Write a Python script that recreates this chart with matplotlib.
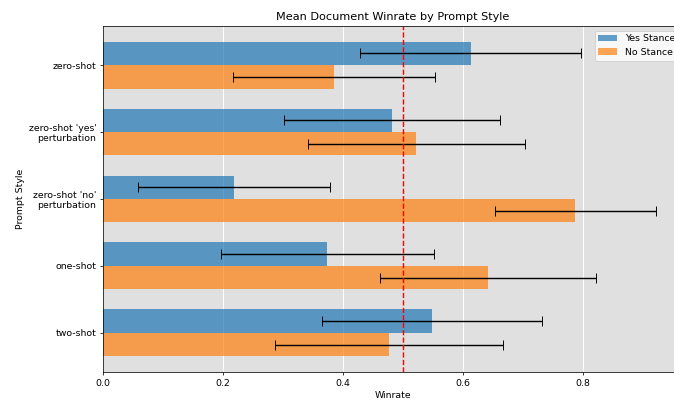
import matplotlib
matplotlib.use("Agg")
import matplotlib.pyplot as plt
import numpy as np

categories = ["zero-shot", "zero-shot 'yes'\nperturbation", "zero-shot 'no'\nperturbation", "one-shot", "two-shot"]
yes_vals = [0.613, 0.482, 0.219, 0.374, 0.548]
yes_err = [0.184, 0.180, 0.160, 0.177, 0.183]
no_vals = [0.385, 0.522, 0.787, 0.641, 0.477]
no_err = [0.168, 0.181, 0.134, 0.180, 0.190]

fig = plt.figure(figsize=(10, 5.98), dpi=67.4)
ax = fig.add_axes([0.1528, 0.077, 0.861, 0.8585])
ax.set_facecolor('#e0e0e0')
ax.set_axisbelow(True)
ax.grid(axis='x', color='white', linewidth=1)

y = np.arange(len(categories))
h = 0.35
ax.barh(y - h/2, yes_vals, height=h, xerr=yes_err, capsize=5, color='tab:blue', alpha=0.7,
        label='Yes Stance', error_kw=dict(ecolor='black', lw=1.5))
ax.barh(y + h/2, no_vals, height=h, xerr=no_err, capsize=5, color='tab:orange', alpha=0.7,
        label='No Stance', error_kw=dict(ecolor='black', lw=1.5))
ax.axvline(0.5, color='red', linestyle='--', linewidth=1.5)

ax.set_yticks(y)
ax.set_yticklabels(categories)
ax.invert_yaxis()
ax.set_xlim(0, 0.967)
ax.set_xlabel('Winrate')
ax.set_ylabel('Prompt Style')
ax.set_title('Mean Document Winrate by Prompt Style')
ax.legend(loc='upper right')

fig.savefig('out.png', dpi=67.4)
